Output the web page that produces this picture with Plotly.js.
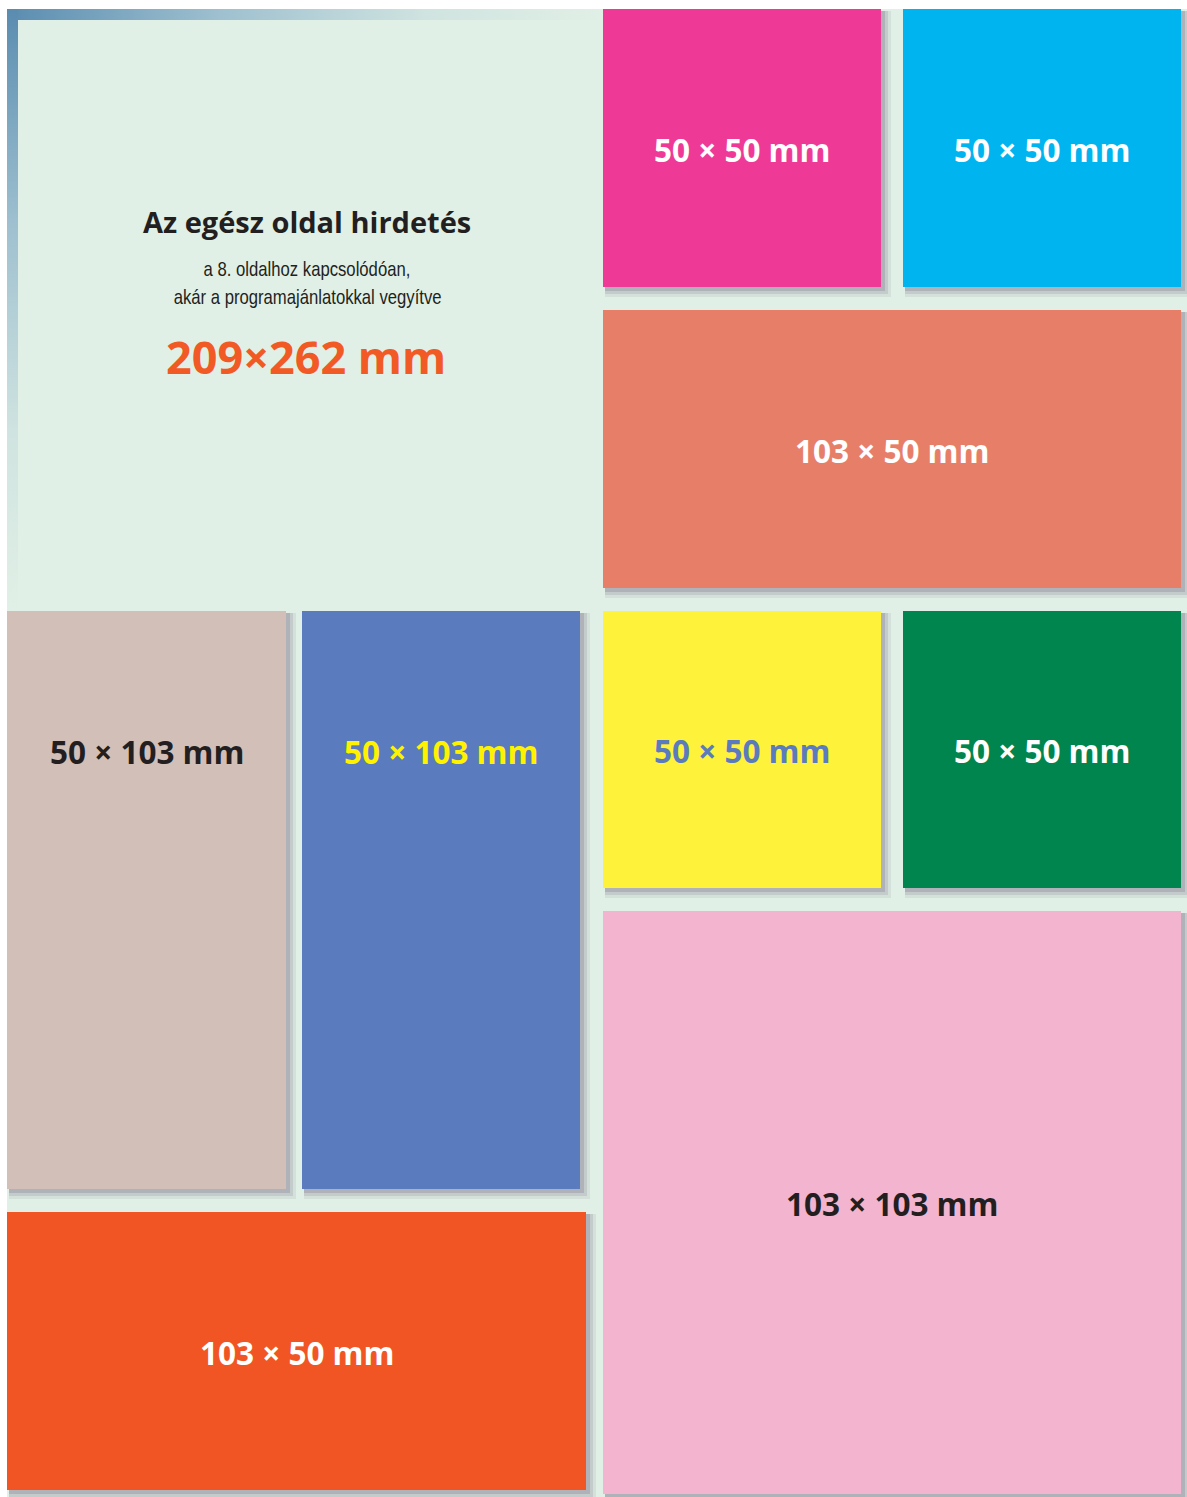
<!DOCTYPE html>
<html>
<head>
<meta charset="utf-8">
<script src="https://cdn.plot.ly/plotly-3.0.1.min.js"></script>
<style>html,body{margin:0;padding:0;background:#fff;}#chart{width:1187px;height:1497px;}</style>
</head>
<body>
<div id="chart"></div>
<script>
// ---- data (page units) ----
const blockLabels = ['50 × 50 mm', '50 × 50 mm', '103 × 50 mm', '50 × 103 mm', '50 × 103 mm',
                     '50 × 50 mm', '50 × 50 mm', '103 × 103 mm', '103 × 50 mm'];
const blockX0 = [603, 903, 603, 7, 302, 603, 903, 603, 7];
const blockX1 = [881, 1181, 1181, 286, 580, 881, 1181, 1181, 586];
const blockY0 = [9, 9, 310, 611, 611, 611, 611, 911, 1212];
const blockY1 = [287, 287, 588, 1189, 1189, 888, 888, 1494, 1490];
const pageTitle = 'Az egész oldal hirdetés';
const pageSubtitle = ['a 8. oldalhoz kapcsolódóan,', 'akár a programajánlatokkal vegyítve'];
const pageSize = '209×262 mm';

// ---- styles ----
const blockColors = ['#ee3a96', '#00b4f0', '#e77f68', '#d2bfb8', '#5a7bbd', '#fff23a', '#00854f', '#f2b4cf', '#f15524'];
const labelColors = ['#ffffff', '#ffffff', '#ffffff', '#231f20', '#fff200', '#5a7bbd', '#ffffff', '#231f20', '#ffffff'];
const mint = '#e1f0e6';
const boldFont = '"Open Sans", "Noto Sans", sans-serif';
const narrowFont = '"Liberation Sans", Arial, sans-serif';

const shapes = [];
const annotations = [];

// page background
shapes.push({type: 'rect', xref: 'x', yref: 'y', x0: 7, x1: 1187, y0: 9, y1: 1497,
  fillcolor: mint, line: {width: 0}, layer: 'below'});

// shadows
for (let i = 0; i < blockLabels.length; i++) {
  const layers = [[10, 0.14], [7, 0.22], [4, 0.34]];
  for (const [o, op] of layers) {
    shapes.push({type: 'rect', xref: 'x', yref: 'y',
      x0: blockX0[i] + 2, x1: blockX1[i] + o, y0: blockY0[i] + 2, y1: blockY1[i] + o,
      fillcolor: '#8a8096', opacity: op, line: {width: 0}, layer: 'above'});
  }
}
// blocks
for (let i = 0; i < blockLabels.length; i++) {
  shapes.push({type: 'rect', xref: 'x', yref: 'y',
    x0: blockX0[i], x1: blockX1[i], y0: blockY0[i], y1: blockY1[i],
    fillcolor: blockColors[i], line: {width: 0}, layer: 'above'});
  const w = blockX1[i] - blockX0[i], h = blockY1[i] - blockY0[i];
  const cx = (blockX0[i] + blockX1[i]) / 2;
  const cy = h > w * 1.5 ? blockY0[i] + w / 2 + 1 : (blockY0[i] + blockY1[i]) / 2 + 1;
  annotations.push({x: cx, y: cy, xref: 'x', yref: 'y', text: '<b>' + blockLabels[i] + '</b>',
    showarrow: false, font: {family: boldFont, size: 31.5, color: labelColors[i]}});
}

// full page texts
annotations.push({x: 307, y: 221, xref: 'x', yref: 'y', text: '<b>' + pageTitle + '</b>', showarrow: false,
  font: {family: boldFont, size: 29, color: '#231f20'}});
annotations.push({x: 307, y: 269, xref: 'x', yref: 'y', text: pageSubtitle[0], showarrow: false,
  font: {family: narrowFont, size: 20, color: '#231f20'}});
annotations.push({x: 307, y: 297, xref: 'x', yref: 'y', text: pageSubtitle[1], showarrow: false,
  font: {family: narrowFont, size: 20, color: '#231f20'}});
annotations.push({x: 306, y: 356, xref: 'x', yref: 'y', text: '<b>' + pageSize + '</b>', showarrow: false,
  font: {family: boldFont, size: 45, color: '#f15a24'}});

// gradient frame in the top-left corner
const gradScale = [[0, '#5a8cb0'], [0.35, '#9dbfcf'], [0.7, '#cfe3e0'], [1, mint]];
const traces = [
  {type: 'scatter', mode: 'lines', x: [7, 603, 603, 7, 7], y: [9, 9, 20, 20, 9], fill: 'toself',
   line: {width: 0, color: 'rgba(0,0,0,0)'}, hoverinfo: 'skip',
   fillgradient: {type: 'horizontal', colorscale: gradScale, start: 7, stop: 603}},
  {type: 'scatter', mode: 'lines', x: [7, 18, 18, 7, 7], y: [9, 9, 611, 611, 9], fill: 'toself',
   line: {width: 0, color: 'rgba(0,0,0,0)'}, hoverinfo: 'skip',
   fillgradient: {type: 'vertical', colorscale: gradScale, start: 9, stop: 611}}
];

const layout = {
  width: 1187, height: 1497,
  margin: {l: 0, r: 0, t: 0, b: 0, pad: 0},
  paper_bgcolor: '#ffffff', plot_bgcolor: 'rgba(0,0,0,0)',
  showlegend: false,
  xaxis: {range: [0, 1187], visible: false, fixedrange: true},
  yaxis: {range: [1497, 0], visible: false, fixedrange: true},
  shapes: shapes, annotations: annotations
};

function condenseSubtitle() {
  const els = Array.from(document.querySelectorAll('.annotation-text'))
    .filter(function (el) { return pageSubtitle.indexOf(el.textContent) >= 0; });
  let scale = null;
  els.forEach(function (el) {
    if (el.textContent === pageSubtitle[1]) {
      const bb = el.getBBox();
      if (bb.width > 0) scale = 268 / bb.width;
    }
  });
  if (!scale || scale >= 1) return;
  els.forEach(function (el) {
    const bb = el.getBBox();
    const cx = bb.x + bb.width / 2;
    el.setAttribute('transform', 'translate(' + cx + ',0) scale(' + scale + ',1) translate(' + (-cx) + ',0)');
  });
}
Plotly.newPlot('chart', traces, layout, {staticPlot: true, displayModeBar: false}).then(condenseSubtitle);
</script>
</body>
</html>
